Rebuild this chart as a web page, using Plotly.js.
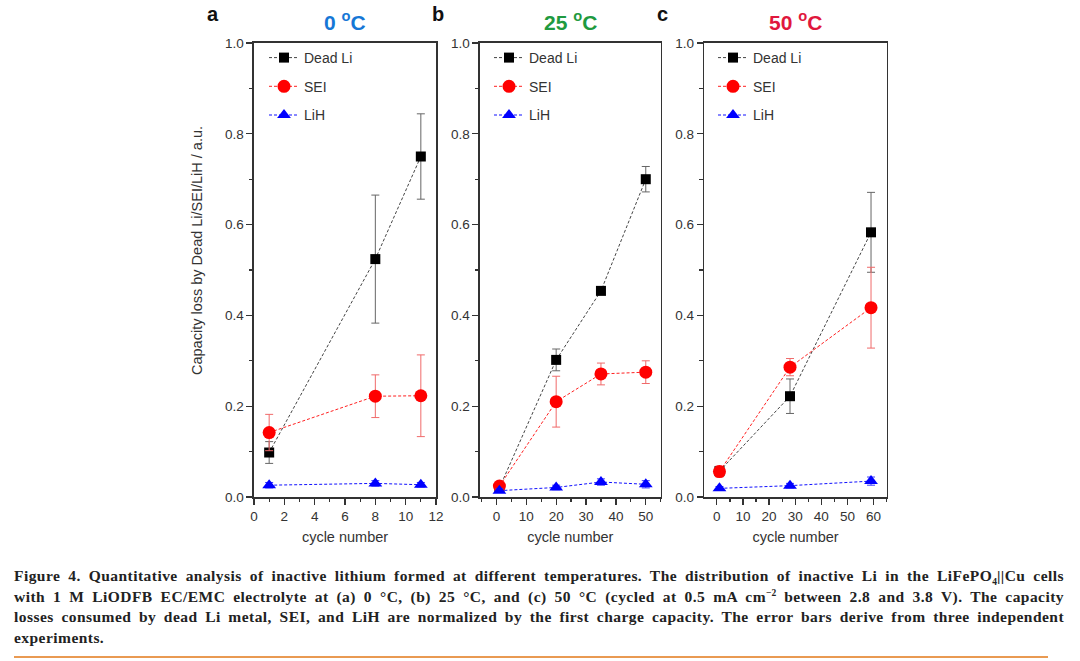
<!DOCTYPE html>
<html>
<head>
<meta charset="utf-8">
<script src="https://cdn.plot.ly/plotly-3.0.1.min.js"></script>
<style>
  html, body { margin: 0; padding: 0; background: #fff; }
  #wrap { position: relative; width: 1080px; height: 661px; overflow: hidden; }
  #chart { position: absolute; left: 0; top: 0; width: 1080px; height: 661px; }
  #caption {
    position: absolute; left: 14px; top: 566px; width: 1050px;
    font-family: "Liberation Serif", "DejaVu Serif", serif;
    font-weight: bold; font-size: 15.5px; letter-spacing: 0.45px;
    line-height: 20.7px; color: #222;
  }
  #caption .ln { white-space: nowrap; text-align: justify; text-align-last: justify; }
  #caption .last { text-align-last: left; }
  #caption sub, #caption sup { font-size: 9.5px; line-height: 0; letter-spacing: 0; }
  #rule { position: absolute; left: 14px; top: 656px; width: 1034px; height: 2px; background: #e99a52; }
</style>
</head>
<body>
<div id="wrap">
  <div id="chart"></div>
  <div id="caption">
    <div class="ln">Figure 4. Quantitative analysis of inactive lithium formed at different temperatures. The distribution of inactive Li in the LiFePO<sub>4</sub>||Cu cells</div>
    <div class="ln">with 1 M LiODFB EC/EMC electrolyte at (a) 0 °C, (b) 25 °C, and (c) 50 °C (cycled at 0.5 mA cm<sup>−2</sup> between 2.8 and 3.8 V). The capacity</div>
    <div class="ln">losses consumed by dead Li metal, SEI, and LiH are normalized by the first charge capacity. The error bars derive from three independent</div>
    <div class="ln last">experiments.</div>
  </div>
  <div id="rule"></div>
</div>
<script>
// Fig. 4 — capacity loss split into dead Li / SEI / LiH at three temperatures.

// (a) 0 °C
const cyclesA  = [1, 8, 11];
const deadA    = [0.098, 0.524, 0.750];
const deadAerr = [0.024, 0.141, 0.094];
const seiA     = [0.142, 0.222, 0.223];
const seiAerr  = [0.040, 0.047, 0.090];
const lihA     = [0.026, 0.030, 0.027];
const lihAerr  = [0.006, 0.006, 0.005];

// (b) 25 °C
const cyclesB  = [1, 20, 35, 50];
const deadB    = [0.020, 0.302, 0.454, 0.700];
const deadBerr = [0.005, 0.024, 0.006, 0.028];
const seiB     = [0.024, 0.210, 0.271, 0.275];
const seiBerr  = [0.006, 0.056, 0.024, 0.025];
const lihB     = [0.014, 0.021, 0.033, 0.028];
const lihBerr  = [0.004, 0.005, 0.007, 0.008];

// (c) 50 °C
const cyclesC  = [1, 28, 59];
const deadC    = [0.057, 0.222, 0.583];
const deadCerr = [0.010, 0.038, 0.088];
const seiC     = [0.056, 0.286, 0.417];
const seiCerr  = [0.012, 0.019, 0.089];
const lihC     = [0.019, 0.025, 0.035];
const lihCerr  = [0.004, 0.005, 0.009];

const seriesNames = ["Dead Li", "SEI", "LiH"];
const panelTitles = ["0 <sup>o</sup>C", "25 <sup>o</sup>C", "50 <sup>o</sup>C"];
const panelLetters = ["a", "b", "c"];

const FONT = '"Liberation Sans", Arial, sans-serif';
const INK = "#333";

const styles = [
  { marker: { symbol: "square", size: 10, color: "#000" },
    line: { color: "#444", width: 1, dash: "3px,2px" }, err: "#666" },
  { marker: { symbol: "circle", size: 13, color: "#ff0000" },
    line: { color: "#ff2020", width: 1, dash: "3px,2px" }, err: "#f06a6a" },
  { marker: { symbol: "triangle-up", size: 12, color: "#0000ff" },
    line: { color: "#1010ff", width: 1, dash: "3px,2px" }, err: "#3a3aff" },
];

function trio(x, ys, errs, idx) {
  const ax = idx === 0 ? "" : String(idx + 1);
  const leg = idx === 0 ? "legend" : "legend" + (idx + 1);
  return ys.map((y, k) => ({
    type: "scatter", mode: "lines+markers",
    x, y, name: seriesNames[k],
    xaxis: "x" + ax, yaxis: "y" + ax,
    legend: leg, legendgroup: panelLetters[idx] + k,
    marker: styles[k].marker, line: styles[k].line,
    error_y: { type: "data", array: errs[k], visible: true,
               color: styles[k].err, thickness: 1, width: 4 },
    cliponaxis: false,
  }));
}

const traces = [
  ...trio(cyclesA, [deadA, seiA, lihA], [deadAerr, seiAerr, lihAerr], 0),
  ...trio(cyclesB, [deadB, seiB, lihB], [deadBerr, seiBerr, lihBerr], 1),
  ...trio(cyclesC, [deadC, seiC, lihC], [deadCerr, seiCerr, lihCerr], 2),
];

const W = 1080, H = 661;
const px = v => v / W;
const py = v => 1 - v / H;
const yDom = [py(497), py(43)];

function xAxis(dom, range, dtick, minor, anchor) {
  return {
    domain: dom, range, dtick, tick0: 0, anchor,
    ticks: "outside", ticklen: 6, tickwidth: 1.3, tickcolor: INK,
    minor: { dtick: minor, ticks: "outside", ticklen: 3.5, tickwidth: 1.2, tickcolor: INK },
    showline: true, mirror: true, linecolor: INK, linewidth: 1.6,
    showgrid: false, zeroline: false,
    tickfont: { family: FONT, size: 13.5, color: INK },
    title: { text: "cycle number", font: { family: FONT, size: 14.5, color: INK }, standoff: 9 },
  };
}
function yAxis(anchor) {
  return {
    domain: yDom, range: [0, 1], dtick: 0.2, tick0: 0, tickformat: ".1f", anchor,
    ticks: "outside", ticklen: 6, tickwidth: 1.3, tickcolor: INK,
    minor: { dtick: 0.1, ticks: "outside", ticklen: 3.5, tickwidth: 1.2, tickcolor: INK },
    showline: true, mirror: true, linecolor: INK, linewidth: 1.6,
    showgrid: false, zeroline: false,
    tickfont: { family: FONT, size: 13.5, color: INK },
  };
}
function legendAt(left) {
  return {
    x: px(left), y: py(42), xanchor: "left", yanchor: "top",
    bgcolor: "rgba(0,0,0,0)", borderwidth: 0,
    traceorder: "grouped", tracegroupgap: 7.5,
    font: { family: FONT, size: 14, color: INK },
  };
}

const titleColors = ["#1677d6", "#1f9a40", "#e0173d"];
const titleX = [345, 570, 795];
const letterX = [213, 438, 662];

const annotations = [];
panelTitles.forEach((t, i) => {
  annotations.push({
    text: "<b>" + t + "</b>", xref: "paper", yref: "paper",
    x: px(titleX[i]), y: py(21), xanchor: "center", yanchor: "middle",
    showarrow: false, font: { family: FONT, size: 21, color: titleColors[i] },
  });
  annotations.push({
    text: "<b>" + panelLetters[i] + "</b>", xref: "paper", yref: "paper",
    x: px(letterX[i]), y: py(14), xanchor: "center", yanchor: "middle",
    showarrow: false, font: { family: FONT, size: 20, color: "#111" },
  });
});
annotations.push({
  text: "Capacity loss by Dead Li/SEI/LiH / a.u.", xref: "paper", yref: "paper",
  x: px(197), y: py(251), xanchor: "center", yanchor: "middle", textangle: -90,
  showarrow: false, font: { family: FONT, size: 14.5, color: INK },
});

const layout = {
  width: W, height: H,
  margin: { l: 0, r: 0, t: 0, b: 0 },
  paper_bgcolor: "#fff", plot_bgcolor: "#fff",
  font: { family: FONT, color: INK },
  showlegend: true,
  xaxis:  xAxis([px(254), px(436)], [0, 12], 2, 1, "y"),
  yaxis:  yAxis("x"),
  xaxis2: xAxis([px(480), px(660.7)], [-5.5, 55], 10, 5, "y2"),
  yaxis2: yAxis("x2"),
  xaxis3: xAxis([px(704.3), px(886.7)], [-4.8, 65], 10, 5, "y3"),
  yaxis3: yAxis("x3"),
  legend:  legendAt(264),
  legend2: legendAt(489),
  legend3: legendAt(713),
  annotations,
};

Plotly.newPlot("chart", traces, layout, { staticPlot: true, displayModeBar: false });
</script>
</body>
</html>
